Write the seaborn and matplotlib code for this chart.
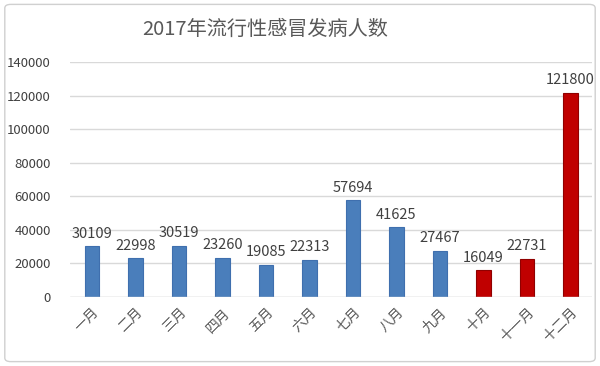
import matplotlib
matplotlib.use("Agg")
import matplotlib.pyplot as plt
import seaborn as sns
import pandas as pd
from matplotlib.patches import FancyBboxPatch

# 数据
meses = ['一月', '二月', '三月', '四月', '五月', '六月', '七月', '八月', '九月',
         '十月', '十一月', '十二月']
casos = [30109, 22998, 30519, 23260, 19085, 22313, 57694, 41625, 27467,
         16049, 22731, 121800]
grupo = ['a'] * 9 + ['b'] * 3
y_ticks = list(range(0, 140001, 20000))

df = pd.DataFrame({'mes': meses, 'casos': casos, 'grupo': grupo})

sns.set_theme(style="white")
plt.rcParams['font.family'] = ['Noto Sans CJK SC', 'DejaVu Sans']

fig = plt.figure(figsize=(6, 3.66), dpi=100)
ax = fig.add_axes([0.117, 0.1885, 0.87, 0.642])

sns.barplot(data=df, x='mes', y='casos', hue='grupo',
            palette={'a': '#4a7ebb', 'b': '#c00000'}, saturation=1,
            dodge=False, legend=False, width=0.33, ax=ax,
            edgecolor=None, linewidth=0)
for p, g in zip(ax.patches, grupo):
    p.set_edgecolor('#3f6fae' if g == 'a' else '#900000')
    p.set_linewidth(0.8)

for c in ax.containers:
    ax.bar_label(c, fmt='%d', padding=4, fontsize=10.5, color='#404040')

ax.set_ylim(0, 140000)
ax.set_yticks(y_ticks)
ax.set_yticklabels([str(v) for v in y_ticks], fontsize=9.5, color='#404040')
ax.yaxis.grid(True, color='#d9d9d9', linewidth=1)
ax.set_axisbelow(True)
ax.set_xlim(-0.5, 11.5)
ax.tick_params(axis='x', labelrotation=45, labelsize=10, labelcolor='#595959', length=0, pad=6)
ax.tick_params(axis='y', length=0, pad=14)
for lbl in ax.get_xticklabels():
    lbl.set_ha('right')
    lbl.set_rotation_mode('anchor')
ax.set_xlabel('')
ax.set_ylabel('')
for s in ax.spines.values():
    s.set_visible(False)
ax.axhline(0, color='#d9d9d9', linewidth=1)

fig.text(0.442, 0.92, '2017年流行性感冒发病人数', ha='center', va='center',
         fontsize=14.5, color='#595959')

frame = FancyBboxPatch((0.008, 0.012), 0.984, 0.976, boxstyle='round,pad=0,rounding_size=0.01',
                       transform=fig.transFigure, fill=False, edgecolor='#d0d0d0', linewidth=1)
fig.patches.append(frame)

fig.savefig('out.png', dpi=100)
